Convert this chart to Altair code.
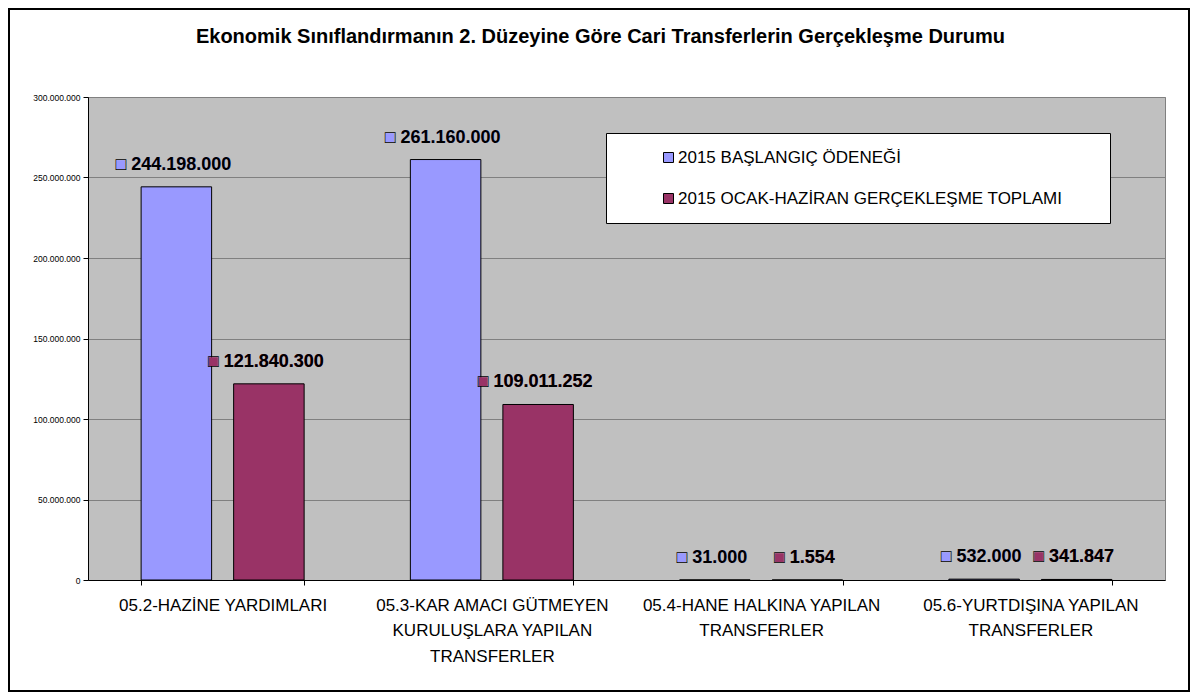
import altair as alt
import pandas as pd

categories = [
    "05.2-HAZİNE YARDIMLARI",
    "05.3-KAR AMACI GÜTMEYEN|KURULUŞLARA YAPILAN|TRANSFERLER",
    "05.4-HANE HALKINA YAPILAN|TRANSFERLER",
    "05.6-YURTDIŞINA YAPILAN|TRANSFERLER",
]
series = ["2015 BAŞLANGIÇ ÖDENEĞİ", "2015 OCAK-HAZİRAN GERÇEKLEŞME TOPLAMI"]
baslangic = [244198000, 261160000, 31000, 532000]
gerceklesme = [121840300, 109011252, 1554, 341847]
y_ticks = [0, 50000000, 100000000, 150000000, 200000000, 250000000, 300000000]
colors = ["#9999FF", "#993366"]
title_text = "Ekonomik Sınıflandırmanın 2. Düzeyine Göre Cari Transferlerin Gerçekleşme Durumu"

rows = []
for c, v in zip(categories, baslangic):
    rows.append({"kategori": c, "seri": series[0], "deger": v})
for c, v in zip(categories, gerceklesme):
    rows.append({"kategori": c, "seri": series[1], "deger": v})
df = pd.DataFrame(rows)

FONT = "Liberation Sans"
DOTFMT = "join(split(format(datum.deger, ',d'), ','), '.')"

x_axis = alt.Axis(
    labelExpr="split(datum.label, '|')", labelAngle=0, tickBand="extent",
    labelFontSize=17, labelLineHeight=25.5, labelPadding=12, labelLimit=400,
    labelColor="black", labelFont=FONT, tickColor="black", domainColor="black",
    tickSize=5, grid=False, title=None,
)
y_axis = alt.Axis(
    values=y_ticks, labelExpr="join(split(format(datum.value, ',d'), ','), '.')",
    labelFontSize=8.5, labelFont=FONT, labelColor="black", labelPadding=3,
    tickColor="black", tickSize=5, domainColor="black", gridColor="#808080",
    gridWidth=1, grid=True, title=None,
)

x_scale = alt.Scale(paddingInner=0.3946, paddingOuter=0.1973)
xo_scale = alt.Scale(paddingInner=0.238, paddingOuter=0)
y_scale = alt.Scale(domain=[0, 300000000], nice=False)
c_scale = alt.Scale(domain=series, range=colors)

legend = alt.Legend(
    title="\u00a0", titleOrient="right", titlePadding=32, titleFontSize=1,
    orient="none", legendX=518, legendY=36,
    fillColor="white", strokeColor="black", padding=16,
    labelFontSize=17, labelFont=FONT, labelColor="black", labelLimit=600,
    symbolType="square", symbolSize=100, symbolStrokeColor="black",
    symbolStrokeWidth=1, symbolOffset=38, labelOffset=1, rowPadding=23,
)

enc = dict(
    x=alt.X("kategori:N", sort=categories, scale=x_scale, axis=x_axis),
    xOffset=alt.XOffset("seri:N", sort=series, scale=xo_scale),
    y=alt.Y("deger:Q", scale=y_scale, axis=y_axis),
)

base = alt.Chart(df)

bars = base.mark_bar(stroke="black", strokeWidth=1).encode(
    color=alt.Color("seri:N", sort=series, scale=c_scale, legend=legend),
    **enc,
)

labels_fill = base.transform_calculate(
    t="'\u25a0 ' + " + DOTFMT
).mark_text(
    font=FONT, fontSize=18, fontWeight="bold", align="center",
    baseline="alphabetic", dx=-3, dy=-17,
).encode(
    text="t:N",
    color=alt.Color("seri:N", sort=series, scale=c_scale, legend=legend),
    **enc,
)

labels_line = base.transform_calculate(
    t="'\u25a1 ' + " + DOTFMT
).mark_text(
    font=FONT, fontSize=18, fontWeight="bold", align="center",
    baseline="alphabetic", dx=-3, dy=-17, color="black",
).encode(text="t:N", **enc)

frame = alt.Chart(pd.DataFrame({"k": [0]})).mark_rect(
    fillOpacity=0, stroke="black", strokeWidth=2
).encode(
    x=alt.value(-79), x2=alt.value(1101), y=alt.value(-88), y2=alt.value(594)
)

chart = alt.layer(bars, labels_fill, labels_line, frame).properties(
    width=1077, height=483,
    autosize=alt.AutoSizeParams(type="none"),
    padding={"left": 80, "top": 89, "right": 25, "bottom": 112},
    background="white",
    title=alt.TitleParams(
        text=title_text, font=FONT, fontSize=20, fontWeight="bold",
        color="black", anchor="middle", frame="group", dx=-26, offset=-39,
    ),
).configure_view(fill="#C0C0C0", stroke="#808080", strokeWidth=1)

chart.save("out.html", embed_options={"renderer": "svg", "actions": False})
